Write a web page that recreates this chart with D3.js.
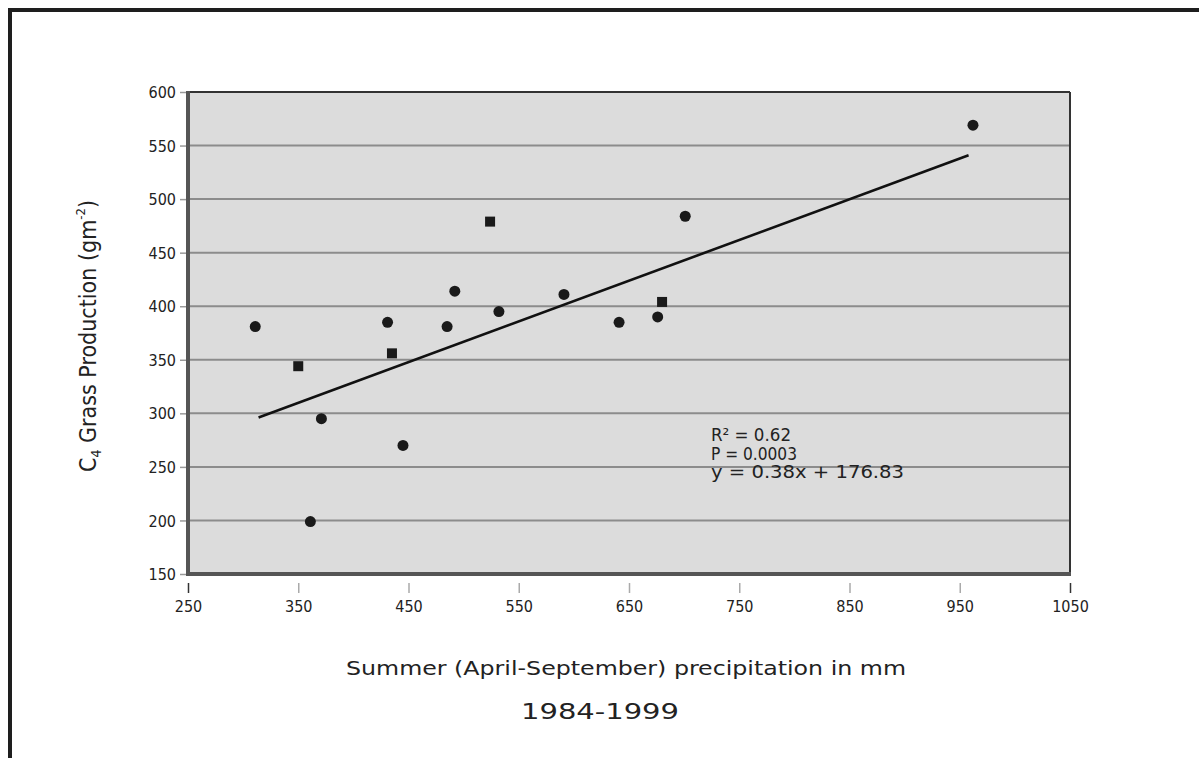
<!DOCTYPE html>
<html><head><meta charset="utf-8">
<script src="https://cdn.jsdelivr.net/npm/d3@7"></script>
<style>body{margin:0;background:#fff}svg{display:block}text{font-family:"DejaVu Sans Condensed","DejaVu Sans",sans-serif;fill:#222}</style>
</head><body>
<script>
// Data
const precip = [311, 350, 361, 371, 431, 435, 445, 485, 492, 524, 532, 591, 641, 676, 680, 701, 962];
const production = [381, 344, 199, 295, 385, 356, 270, 381, 414, 479, 395, 411, 385, 390, 404, 484, 569];
const markerShape = ["circle","square","circle","circle","circle","square","circle","circle","circle","square","circle","circle","circle","circle","square","circle","circle"];
const xTicks = [250, 350, 450, 550, 650, 750, 850, 950, 1050];
const yTicks = [150, 200, 250, 300, 350, 400, 450, 500, 550, 600];
const slope = 0.38, intercept = 176.83;
const fitRange = [314, 958];
const statsLines = ["R² = 0.62", "P = 0.0003", "y = 0.38x + 176.83"];

const W = 1199, H = 758;
const svg = d3.select("body").append("svg").attr("width", W).attr("height", H);

// outer frame
svg.append("path").attr("d", `M10,${H} L10,10 L${W},10`).attr("fill","none").attr("stroke","#1e1e1e").attr("stroke-width",4);

const x = d3.scaleLinear().domain([250, 1050]).range([188, 1070]);
const y = d3.scaleLinear().domain([150, 600]).range([574, 92]);

// plot background
svg.append("rect").attr("x", x(250)).attr("y", y(600)).attr("width", x(1050)-x(250)).attr("height", y(150)-y(600)).attr("fill","#dcdcdc");

// grid lines
svg.append("g").selectAll("line").data(yTicks.filter(d=>d>150 && d<600)).join("line")
  .attr("x1", x(250)).attr("x2", x(1050)).attr("y1", d=>y(d)).attr("y2", d=>y(d))
  .attr("stroke","#8c8c8c").attr("stroke-width",2);

// frame of plot
svg.append("line").attr("x1",x(250)).attr("x2",x(1050)).attr("y1",y(600)).attr("y2",y(600)).attr("stroke","#333").attr("stroke-width",2);
svg.append("line").attr("x1",x(1050)).attr("x2",x(1050)).attr("y1",y(600)).attr("y2",y(150)).attr("stroke","#333").attr("stroke-width",2);
svg.append("line").attr("x1",x(250)).attr("x2",x(250)).attr("y1",y(600)-1).attr("y2",y(150)+2).attr("stroke","#555").attr("stroke-width",4);
svg.append("line").attr("x1",x(250)-2).attr("x2",x(1050)+1).attr("y1",y(150)).attr("y2",y(150)).attr("stroke","#555").attr("stroke-width",4);

// Y axis
const yAxis = svg.append("g").attr("transform", `translate(${x(250)-4},0)`)
  .call(d3.axisLeft(y).tickValues(yTicks).tickSize(6).tickPadding(2).tickFormat(d3.format("d")));
yAxis.select(".domain").remove();
yAxis.selectAll(".tick line").attr("stroke","#999").attr("stroke-width",1.5).attr("transform","translate(2,0)");
yAxis.selectAll(".tick text").attr("font-size",16).attr("fill","#222").attr("font-family","DejaVu Sans Condensed, DejaVu Sans, sans-serif").attr("dy","0.35em");

// X axis
const xAxis = svg.append("g").attr("transform", `translate(0,${y(150)+9})`)
  .call(d3.axisBottom(x).tickValues(xTicks).tickSize(10).tickPadding(8).tickFormat(d3.format("d")));
xAxis.select(".domain").remove();
xAxis.selectAll(".tick line").attr("stroke", d => (d===250||d===1050) ? "#333" : "#aaa").attr("stroke-width",1.5);
xAxis.selectAll(".tick text").attr("font-size",16).attr("fill","#222").attr("font-family","DejaVu Sans Condensed, DejaVu Sans, sans-serif");

// regression line
svg.append("line")
  .attr("x1", x(fitRange[0])).attr("y1", y(slope*fitRange[0]+intercept))
  .attr("x2", x(fitRange[1])).attr("y2", y(slope*fitRange[1]+intercept))
  .attr("stroke","#111").attr("stroke-width",2.6);

// points
const pts = precip.map((p,i)=>({x:p, y:production[i], s:markerShape[i]}));
svg.append("g").selectAll("circle").data(pts.filter(d=>d.s==="circle")).join("circle")
  .attr("cx", d=>x(d.x)).attr("cy", d=>y(d.y)).attr("r",5.5).attr("fill","#1a1a1a");
svg.append("g").selectAll("rect").data(pts.filter(d=>d.s==="square")).join("rect")
  .attr("x", d=>x(d.x)-5).attr("y", d=>y(d.y)-5).attr("width",10).attr("height",10).attr("fill","#1a1a1a");

// statistics annotation
const statsWidths = [80, 86, 193];
svg.append("g").selectAll("text").data(statsLines).join("text")
  .attr("x", 711).attr("y", (d,i)=>441 + i*18.5)
  .attr("font-size",17).attr("textLength",(d,i)=>statsWidths[i]).attr("lengthAdjust","spacingAndGlyphs")
  .text(d=>d);

// axis titles
const yt = svg.append("text").attr("transform","translate(96,336) rotate(-90)")
  .attr("text-anchor","middle").attr("font-size",23)
  .attr("font-family","DejaVu Sans, sans-serif");
yt.append("tspan").text("C");
yt.append("tspan").attr("font-size",14).attr("dy",5).text("4");
yt.append("tspan").attr("dy",-5).text(" Grass Production (gm");
yt.append("tspan").attr("font-size",13).attr("dy",-11).text("-2");
yt.append("tspan").attr("dy",11).text(")");

svg.append("text").attr("x",626).attr("y",675).attr("text-anchor","middle")
  .attr("font-size",19).attr("textLength",560).attr("lengthAdjust","spacingAndGlyphs")
  .text("Summer (April-September) precipitation in mm");
svg.append("text").attr("x",600).attr("y",719).attr("text-anchor","middle")
  .attr("font-size",22).attr("textLength",158).attr("lengthAdjust","spacingAndGlyphs")
  .text("1984-1999");
</script>
</body></html>
